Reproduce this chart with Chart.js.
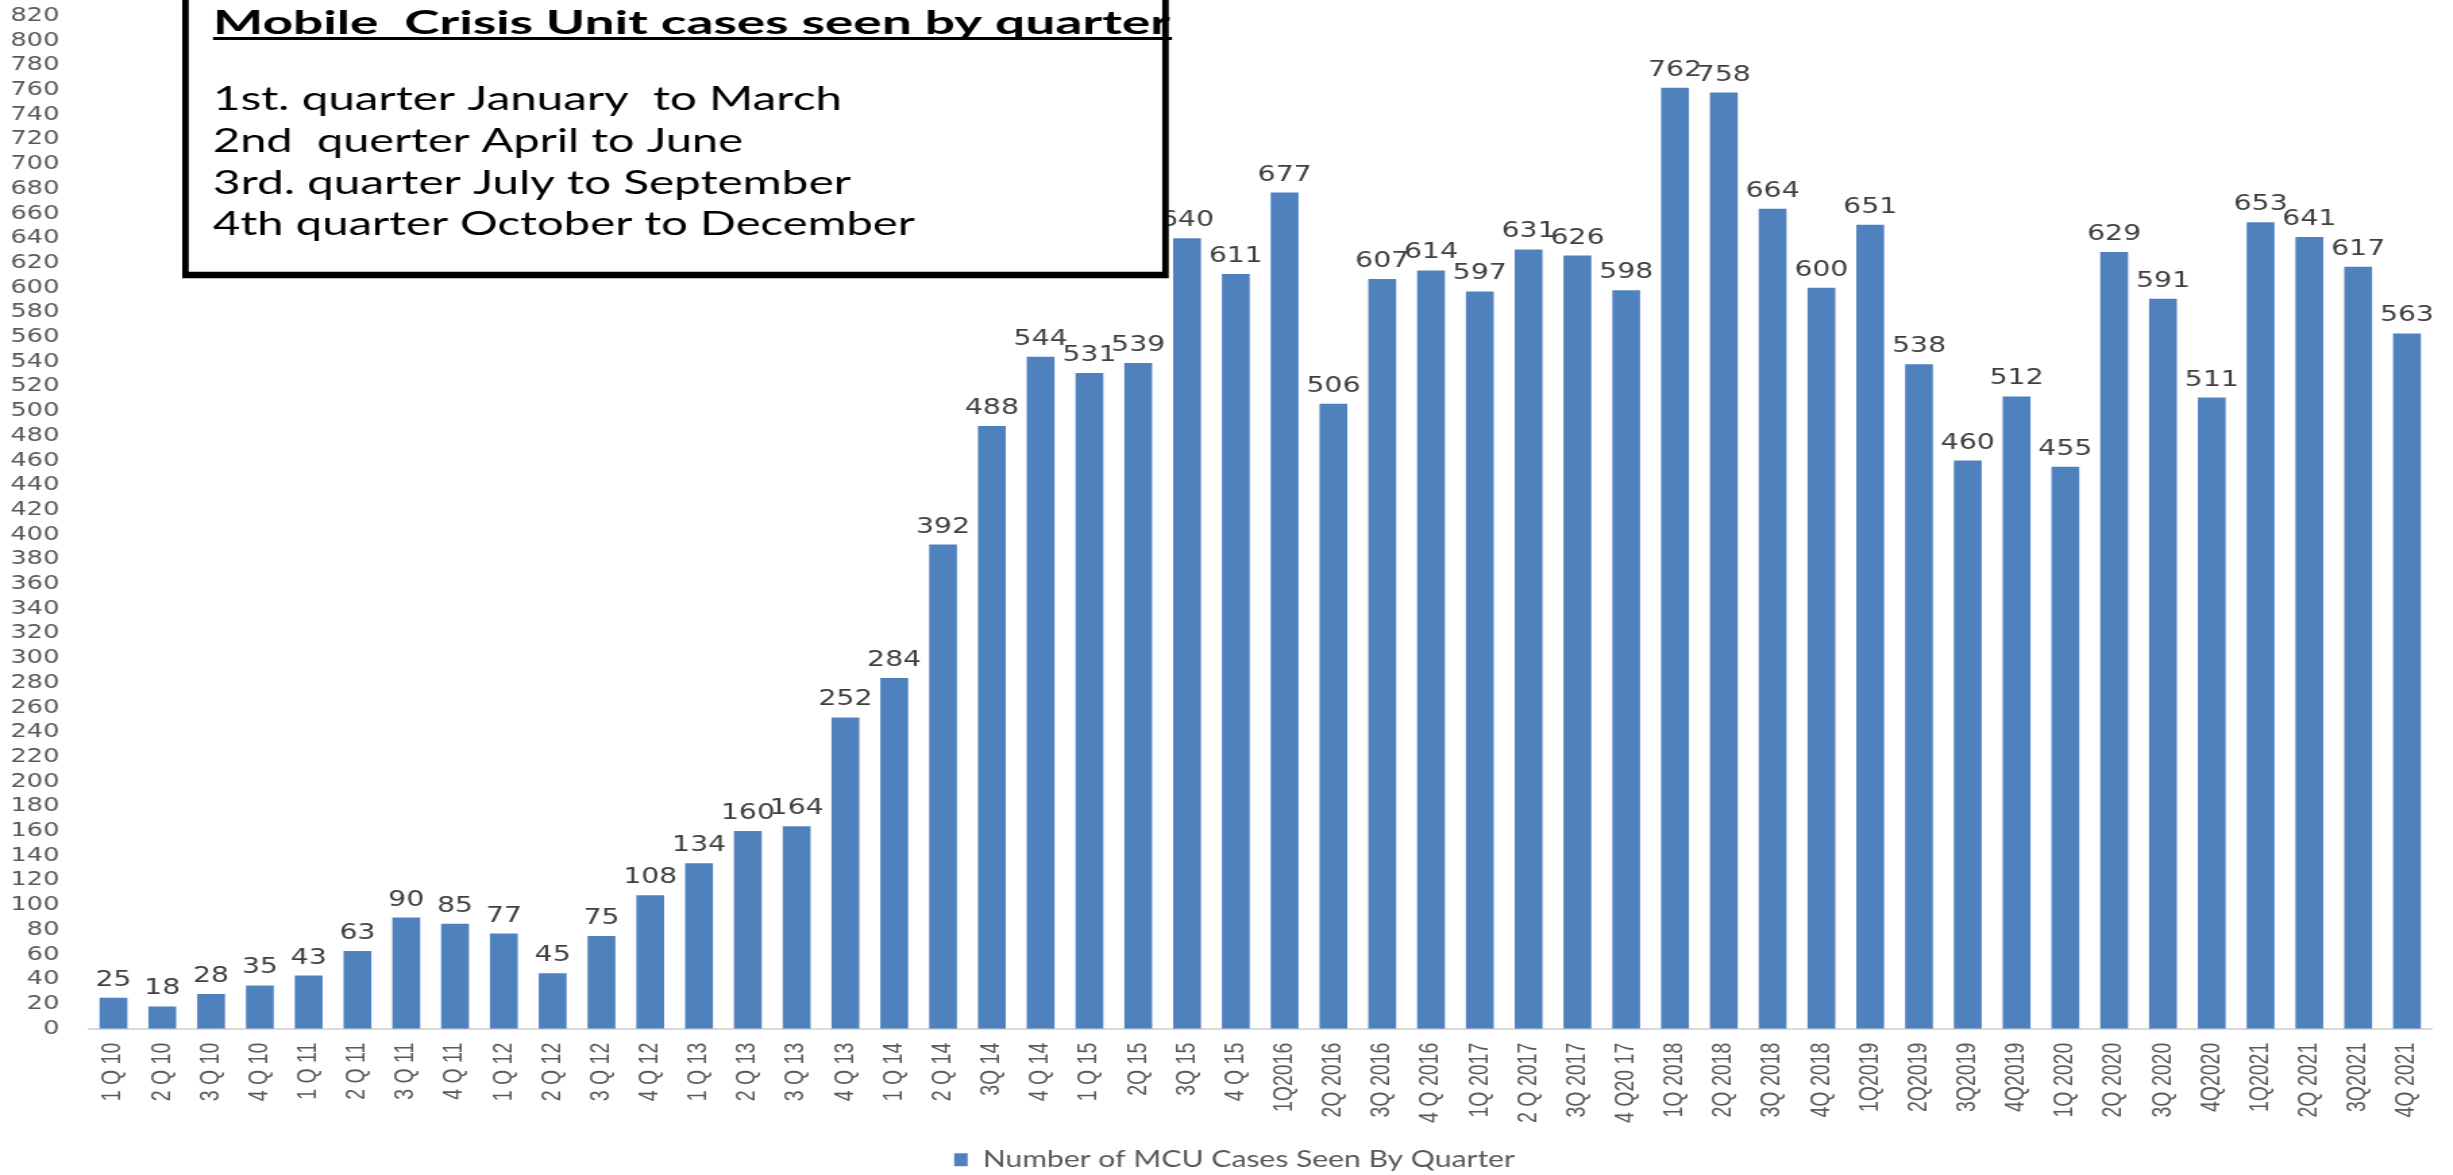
<!DOCTYPE html>
<html><head><meta charset="utf-8">
<script src="https://cdn.jsdelivr.net/npm/chart.js@4.4.0/dist/chart.umd.min.js"></script>
<style>
html,body{margin:0;padding:0;background:#fff;overflow:hidden;}
#wrap{position:absolute;left:0;top:0;width:1817px;height:1175px;transform-origin:0 0;}
canvas{background:#fff;}
</style></head><body>
<div id="wrap"><canvas id="c" width="1817" height="1175"></canvas></div>
<script>
// ---- data ----
const quarterLabels = [
  '1 Q 10','2 Q 10','3 Q 10','4 Q 10',
  '1 Q 11','2 Q 11','3 Q 11','4 Q 11',
  '1 Q 12','2 Q 12','3 Q 12','4 Q 12',
  '1 Q 13','2 Q 13','3 Q 13','4 Q 13',
  '1 Q 14','2 Q 14','3Q 14','4 Q 14',
  '1 Q 15','2Q 15','3Q 15','4 Q 15',
  '1Q2016','2Q 2016','3Q 2016','4 Q 2016',
  '1Q 2017','2 Q 2017','3Q 2017','4 Q20 17',
  '1Q 2018','2Q 2018','3Q 2018','4Q 2018',
  '1Q2019','2Q2019','3Q2019','4Q2019',
  '1Q 2020','2Q 2020','3Q 2020','4Q2020',
  '1Q2021','2Q 2021','3Q2021','4Q 2021'
];
const mcuCases = [
  25, 18, 28, 35,
  43, 63, 90, 85,
  77, 45, 75, 108,
  134, 160, 164, 252,
  284, 392, 488, 544,
  531, 539, 640, 611,
  677, 506, 607, 614,
  597, 631, 626, 598,
  762, 758, 664, 600,
  651, 538, 460, 512,
  455, 629, 591, 511,
  653, 641, 617, 563
];
const seriesName = 'Number of MCU Cases Seen By Quarter';
const boxTitle = 'Mobile  Crisis Unit cases seen by quarter';
const boxLines = [
  '1st. quarter January  to March',
  '2nd  querter April to June',
  '3rd. quarter July to September',
  '4th quarter October to December'
];
const yMin = 0, yMax = 820, yStep = 20;

// ---- page geometry (reference picture is horizontally stretched) ----
const PAGE_W = 2453, CANVAS_W = 1817, S = PAGE_W / CANVAS_W;
document.getElementById('wrap').style.transform = 'scaleX(' + S + ')';

function fitText(ctx, txt, x, y, targetW, font) {
  ctx.font = font;
  const w = ctx.measureText(txt).width;
  ctx.save();
  ctx.translate(x, y);
  ctx.scale(targetW / w, 1);
  ctx.fillText(txt, 0, 0);
  ctx.restore();
}

const barValueLabels = {
  id: 'barValueLabels',
  afterDatasetsDraw(chart) {
    const ctx = chart.ctx;
    const meta = chart.getDatasetMeta(0);
    const vals = chart.data.datasets[0].data;
    ctx.save();
    ctx.font = '21px "DejaVu Sans", sans-serif';
    ctx.fillStyle = '#404040';
    ctx.textAlign = 'center';
    ctx.textBaseline = 'alphabetic';
    meta.data.forEach((bar, i) => {
      ctx.fillText(String(vals[i]), bar.x, bar.y - 12);
    });
    ctx.restore();
  }
};

const legendShift = {
  id: 'legendShift',
  afterLayout(chart) {
    if (chart.legend) {
      chart.legend.top += 6; chart.legend.bottom += 6;
      chart.legend.left += 14; chart.legend.right += 14;
    }
  }
};

const noteBox = {
  id: 'noteBox',
  afterDraw(chart) {
    const ctx = chart.ctx;
    ctx.save();
    ctx.scale(1 / S, 1); // work in page pixels
    ctx.fillStyle = '#ffffff';
    ctx.fillRect(185, -10, 980, 285);
    ctx.lineWidth = 6.5;
    ctx.strokeStyle = '#000000';
    ctx.strokeRect(185.5, -10, 980, 285);
    ctx.fillStyle = '#000000';
    ctx.textBaseline = 'alphabetic';
    ctx.textAlign = 'left';
    fitText(ctx, boxTitle, 213, 34, 957, 'bold 32px Lato, sans-serif');
    ctx.fillRect(213, 37, 959, 3);
    const baselines = [110, 152, 194, 235];
    const widths = [629, 530, 638, 702];
    boxLines.forEach((t, i) => fitText(ctx, t, 213, baselines[i], widths[i], '33px Lato, sans-serif'));
    ctx.restore();
  }
};

new Chart(document.getElementById('c'), {
  type: 'bar',
  data: {
    labels: quarterLabels,
    datasets: [{
      label: seriesName,
      data: mcuCases,
      backgroundColor: '#4f81bd',
      borderWidth: 0,
      barPercentage: 0.57,
      categoryPercentage: 1
    }]
  },
  options: {
    responsive: false,
    animation: false,
    devicePixelRatio: 1,
    layout: { padding: { left: 0, right: 16, top: 16, bottom: 0 } },
    plugins: {
      legend: {
        position: 'bottom',
        labels: {
          boxWidth: 10, boxHeight: 13, padding: 10,
          color: '#595959',
          font: { family: 'Lato, sans-serif', size: 22.3 }
        }
      },
      tooltip: { enabled: false }
    },
    scales: {
      x: {
        grid: { display: false, drawTicks: true, tickLength: 14 },
        border: { display: true, color: '#d9d9d9', width: 2 },
        ticks: {
          autoSkip: false, minRotation: 90, maxRotation: 90, padding: 0,
          color: '#595959',
          font: { family: '"Liberation Sans", Arial, sans-serif', size: 19.5 }
        },
        afterFit(s) { s.height = 104; }
      },
      y: {
        min: yMin, max: yMax,
        grid: { display: false, drawTicks: true, tickLength: 22 },
        border: { display: false },
        ticks: {
          stepSize: yStep, autoSkip: false, padding: 0,
          color: '#595959',
          font: { family: '"DejaVu Sans", sans-serif', size: 19 }
        },
        afterFit(s) { s.width = 66; }
      }
    }
  },
  plugins: [barValueLabels, legendShift, noteBox]
});
</script>
</body></html>
